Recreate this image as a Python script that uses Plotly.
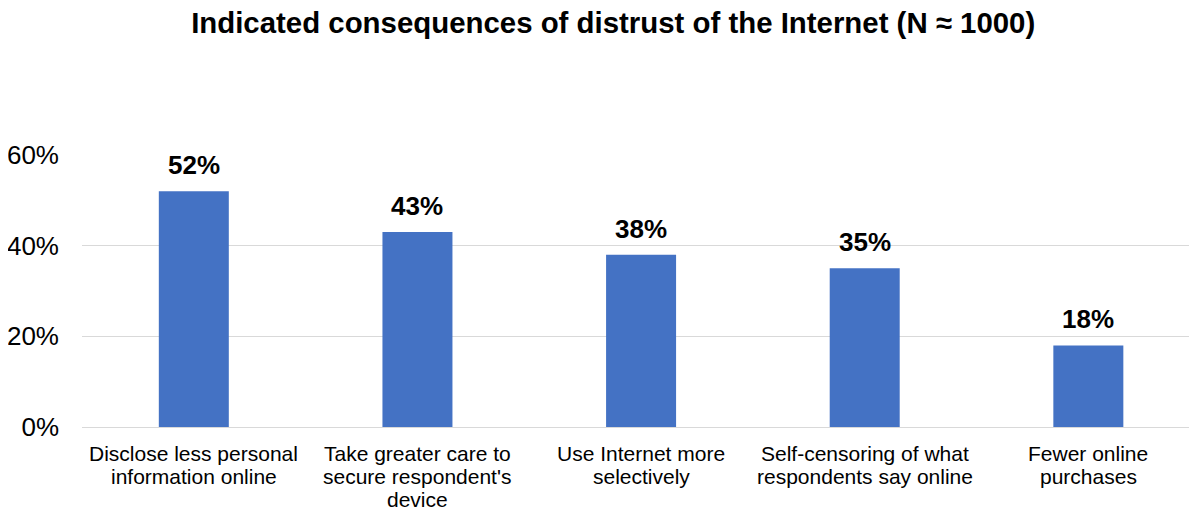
import plotly.graph_objects as go

categories = [
    "Disclose less personal<br>information online",
    "Take greater care to<br>secure respondent's<br>device",
    "Use Internet more<br>selectively",
    "Self-censoring of what<br>respondents say online",
    "Fewer online<br>purchases",
]
values = [52, 43, 38, 35, 18]
labels = [f"{v}%" for v in values]

FONT = "Liberation Sans"

fig = go.Figure(go.Bar(
    x=categories, y=values,
    marker=dict(color="#4472C4", line=dict(width=0)),
    hoverinfo="skip",
))

for c, v, t in zip(categories, values, labels):
    fig.add_annotation(x=c, y=v, text=f"<b>{t}</b>", showarrow=False,
                       yanchor="bottom", yshift=9,
                       font=dict(family=FONT, size=26, color="#000000"))

# category labels, one annotation per line for tighter line spacing
for c in categories:
    for i, line in enumerate(c.split("<br>")):
        fig.add_annotation(x=c, y=0, yref="paper", text=line, showarrow=False,
                           yanchor="middle", yshift=-26 - 23 * i,
                           font=dict(family=FONT, size=21, color="#000000"))

fig.update_layout(
    width=1189, height=505,
    margin=dict(l=74, r=4, t=147, b=86),
    paper_bgcolor="white", plot_bgcolor="white",
    bargap=0.687,
    showlegend=False,
    title=dict(text="<b>Indicated consequences of distrust of the Internet (N ≈ 1000)</b>",
               x=0.509, xanchor="center", y=0.971, yanchor="middle",
               font=dict(family=FONT, size=29.4, color="#000000")),
    font=dict(family=FONT, color="#000000"),
)
fig.update_yaxes(range=[0, 60], tickvals=[0, 20, 40, 60], ticktext=["0%", "20%", "40%", "60%"],
                 showgrid=True, gridcolor="#d9d9d9", gridwidth=1,
                 zeroline=True, zerolinecolor="#d9d9d9", zerolinewidth=1,
                 tickfont=dict(size=26, color="#000000"), ticks="", ticklabelstandoff=22,
                 automargin=False)
fig.update_xaxes(showticklabels=False, ticks="", showline=False, automargin=False,
                 range=[-0.5, 4.468])

fig.write_html("out.html")
